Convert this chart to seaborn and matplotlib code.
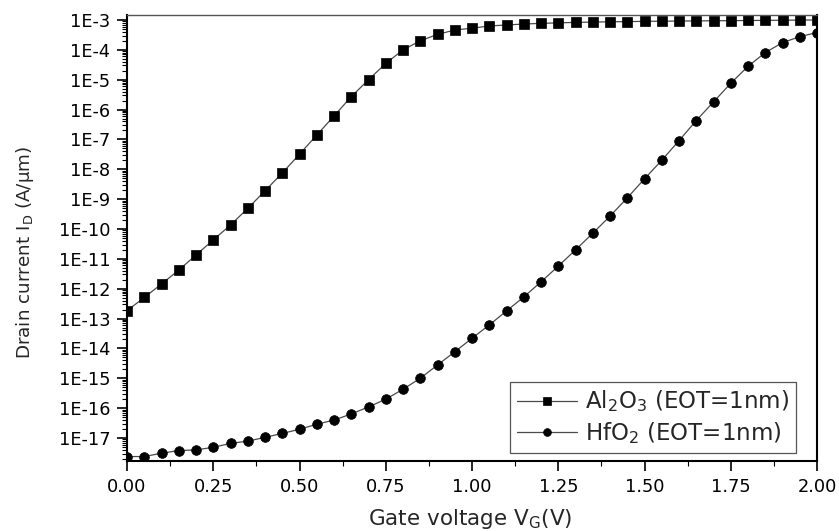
import numpy as np
import pandas as pd
import matplotlib
matplotlib.use("Agg")
import matplotlib.pyplot as plt
import matplotlib.ticker as mticker
import seaborn as sns

# Gate voltage sweep (V)
vg = [0.00, 0.05, 0.10, 0.15, 0.20, 0.25, 0.30, 0.35, 0.40, 0.45,
      0.50, 0.55, 0.60, 0.65, 0.70, 0.75, 0.80, 0.85, 0.90, 0.95,
      1.00, 1.05, 1.10, 1.15, 1.20, 1.25, 1.30, 1.35, 1.40, 1.45,
      1.50, 1.55, 1.60, 1.65, 1.70, 1.75, 1.80, 1.85, 1.90, 1.95, 2.00]

# Drain current (A/um), Al2O3 gate dielectric, EOT = 1 nm
id_al2o3 = [1.84e-13, 5.1e-13, 1.44e-12, 4.2e-12, 1.35e-11, 4.3e-11, 1.36e-10, 4.9e-10,
            1.9e-9, 7.5e-9, 3.2e-8, 1.4e-7, 6.1e-7, 2.7e-6, 1.0e-5, 3.5e-5, 1.0e-4,
            2.0e-4, 3.3e-4, 4.6e-4, 5.3e-4, 6.3e-4, 6.8e-4, 7.3e-4, 7.7e-4, 8.0e-4,
            8.3e-4, 8.5e-4, 8.7e-4, 8.8e-4, 9.0e-4, 9.1e-4, 9.2e-4, 9.3e-4, 9.4e-4,
            9.5e-4, 9.6e-4, 9.7e-4, 9.8e-4, 9.9e-4, 1.0e-3]

# Drain current (A/um), HfO2 gate dielectric, EOT = 1 nm
id_hfo2 = [2.4e-18, 2.4e-18, 3.1e-18, 3.8e-18, 4.0e-18, 4.9e-18, 6.6e-18, 7.9e-18,
           1.05e-17, 1.43e-17, 1.96e-17, 2.9e-17, 4.0e-17, 6.4e-17, 1.1e-16, 2.0e-16,
           4.3e-16, 1.0e-15, 2.8e-15, 7.7e-15, 2.2e-14, 6.1e-14, 1.8e-13, 5.3e-13,
           1.7e-12, 5.7e-12, 2.0e-11, 7.2e-11, 2.7e-10, 1.1e-9, 4.8e-9, 2.0e-8, 9.1e-8,
           4.3e-7, 1.8e-6, 7.6e-6, 2.8e-5, 8.1e-5, 1.74e-4, 2.76e-4, 3.8e-4]

series_labels = ["Al$_2$O$_3$ (EOT=1nm)", "HfO$_2$ (EOT=1nm)"]
x_ticks = [0.00, 0.25, 0.50, 0.75, 1.00, 1.25, 1.50, 1.75, 2.00]
y_decades = list(range(-17, -2))

sns.set_theme(style="ticks")
plt.rcParams["font.family"] = ["DejaVu Sans"]
plt.rcParams["mathtext.default"] = "regular"

df_al = pd.DataFrame({"vg": vg, "id": id_al2o3})
df_hf = pd.DataFrame({"vg": vg, "id": id_hfo2})

fig = plt.figure(figsize=(8.39, 5.31), dpi=100)
ax = fig.add_axes([0.1514, 0.1318, 0.8224, 0.8400])

line_kw = dict(color="#4a4a4a", linewidth=0.9, markeredgecolor="black",
               markerfacecolor="black", markeredgewidth=0.5, errorbar=None)
sns.lineplot(data=df_al, x="vg", y="id", marker="s", markersize=6.8,
             label=series_labels[0], ax=ax, **line_kw)
sns.lineplot(data=df_hf, x="vg", y="id", marker="o", markersize=7.0,
             label=series_labels[1], ax=ax, **line_kw)

ax.set_yscale("log")
ax.set_xlim(0, 2.0)
ax.set_ylim(1.70e-18, 1.47e-3)

ax.yaxis.set_major_locator(mticker.FixedLocator([10.0 ** d for d in y_decades]))
ax.yaxis.set_major_formatter(
    mticker.FuncFormatter(lambda v, p: "1E%d" % int(np.round(np.log10(v)))))
ax.yaxis.set_minor_locator(mticker.LogLocator(base=10, subs=np.arange(2, 10), numticks=200))
ax.yaxis.set_minor_formatter(mticker.NullFormatter())

ax.xaxis.set_major_locator(mticker.FixedLocator(x_ticks))
ax.xaxis.set_major_formatter(mticker.FormatStrFormatter("%.2f"))
ax.xaxis.set_minor_locator(mticker.MultipleLocator(0.125))

ax.tick_params(axis="both", which="major", direction="out", length=7, width=1.2,
               labelsize=12.8, color="black", labelcolor="black", pad=5)
ax.tick_params(axis="both", which="minor", direction="out", length=3.8, width=0.8,
               color="black")
ax.tick_params(top=False, right=False, which="both")

for side in ["left", "bottom", "right"]:
    ax.spines[side].set_linewidth(1.5)
    ax.spines[side].set_color("black")
ax.spines["top"].set_linewidth(1.0)
ax.spines["top"].set_color("#555555")

ax.set_xlabel("Gate voltage V$_G$(V)", fontsize=15.5)
ax.set_ylabel("Drain current I$_D$ (A/μm)", fontsize=13.2)
ax.xaxis.set_label_coords(0.497, -0.104)
ax.yaxis.set_label_coords(-0.132, 0.468)

leg = ax.legend(loc="lower right", bbox_to_anchor=(0.9696, 0.018), borderaxespad=0,
                fontsize=16.5, frameon=True, fancybox=False, framealpha=1,
                edgecolor="#555555", handlelength=2.6, handletextpad=0.35,
                borderpad=0.3, labelspacing=0.25, markerscale=0.8)
leg.get_frame().set_linewidth(0.9)

fig.savefig("out.png", dpi=100)
